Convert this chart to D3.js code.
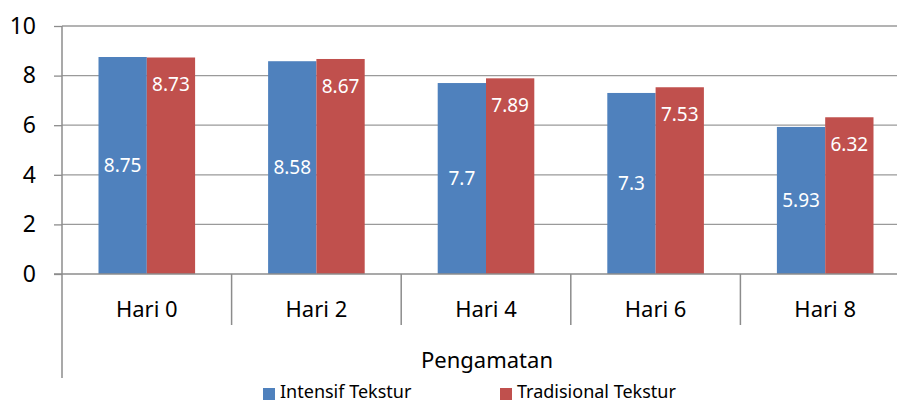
<!DOCTYPE html>
<html><head><meta charset="utf-8">
<script src="https://cdn.jsdelivr.net/npm/d3@7"></script>
<style>body{margin:0;background:#fff}svg{display:block}text{font-family:"Noto Sans",sans-serif}</style>
</head><body>
<svg id="c" width="897" height="403"></svg>
<script>
const categories = ["Hari 0","Hari 2","Hari 4","Hari 6","Hari 8"];
const seriesNames = ["Intensif Tekstur","Tradisional Tekstur"];
const intensif = [8.75, 8.58, 7.7, 7.3, 5.93];
const tradisional = [8.73, 8.67, 7.89, 7.53, 6.32];
const yTicks = [0,2,4,6,8,10];
const colors = ["#4F81BD","#C0504D"];
const xTitle = "Pengamatan";

(function(){
const svg = d3.select("#c");
const pLeft = 62, pRight = 910, pTop = 26, pBottom = 274;
const x = d3.scaleBand().domain(categories).range([pLeft, pRight]);
const y = d3.scaleLinear().domain([0,10]).range([pBottom, pTop]);
const axisColor = "#8c8c8c";

// gridlines
svg.append("g").selectAll("line").data(yTicks.filter(d=>d>0)).join("line")
  .attr("x1", pLeft).attr("x2", pRight).attr("y1", d=>y(d)).attr("y2", d=>y(d))
  .attr("stroke", "#9a9a9a").attr("stroke-width", 1.3);

// y axis
const yAxis = svg.append("g").attr("transform", `translate(${pLeft},0)`)
  .call(d3.axisLeft(y).tickValues(yTicks).tickSize(8).tickPadding(18).tickFormat(d3.format("d")));
yAxis.select(".domain").remove();
yAxis.selectAll(".tick line").attr("stroke", axisColor).attr("stroke-width", 1.3);
yAxis.selectAll("text").attr("font-size", 23).attr("fill", "#000");

// bars
const sub = d3.scaleBand().domain([0,1]).range([0, 96.6]);
const data = categories.map((c,i)=>({c, v:[intensif[i], tradisional[i]]}));
const gBars = svg.append("g");
data.forEach(d=>{
  const cx = x(d.c) + x.bandwidth()/2 - 48.3;
  d.v.forEach((v,j)=>{
    gBars.append("rect").attr("x", cx + sub(j)).attr("y", y(v))
      .attr("width", sub.bandwidth()).attr("height", y(0)-y(v))
      .attr("fill", colors[j]);
    const tx = cx + sub(j) + sub.bandwidth()/2;
    const ty = j===0 ? (y(v)+y(0))/2 : y(v)+27;
    gBars.append("text").attr("x", tx).attr("y", ty).attr("dy","0.35em")
      .attr("text-anchor","middle").attr("font-size", 19).attr("fill","#fff")
      .text(v);
  });
});

// x axis line
svg.append("line").attr("x1", pLeft-8).attr("x2", pRight).attr("y1", pBottom).attr("y2", pBottom)
  .attr("stroke", axisColor).attr("stroke-width", 1.5);
// left axis line
svg.append("line").attr("x1", pLeft).attr("x2", pLeft).attr("y1", pTop).attr("y2", 378)
  .attr("stroke", axisColor).attr("stroke-width", 1.5);
// category separators
svg.append("g").selectAll("line").data(categories.slice(1)).join("line")
  .attr("x1", d=>x(d)).attr("x2", d=>x(d)).attr("y1", pBottom).attr("y2", 325)
  .attr("stroke", axisColor).attr("stroke-width", 1.5);
// category labels
svg.append("g").selectAll("text").data(categories).join("text")
  .attr("x", d=>x(d)+x.bandwidth()/2).attr("y", 317)
  .attr("text-anchor","middle").attr("font-size", 22).attr("fill","#000").text(d=>d);

// x title
svg.append("text").attr("x", 487).attr("y", 368).attr("text-anchor","middle")
  .attr("font-size", 22).attr("fill","#000").text(xTitle);

// legend
const legX = [263, 500];
seriesNames.forEach((s,i)=>{
  svg.append("rect").attr("x", legX[i]).attr("y", 388).attr("width", 12).attr("height", 12).attr("fill", colors[i]);
  svg.append("text").attr("x", legX[i]+17).attr("y", 398).attr("font-size", 18).attr("fill","#000").text(s);
});
})();
</script>
</body></html>
